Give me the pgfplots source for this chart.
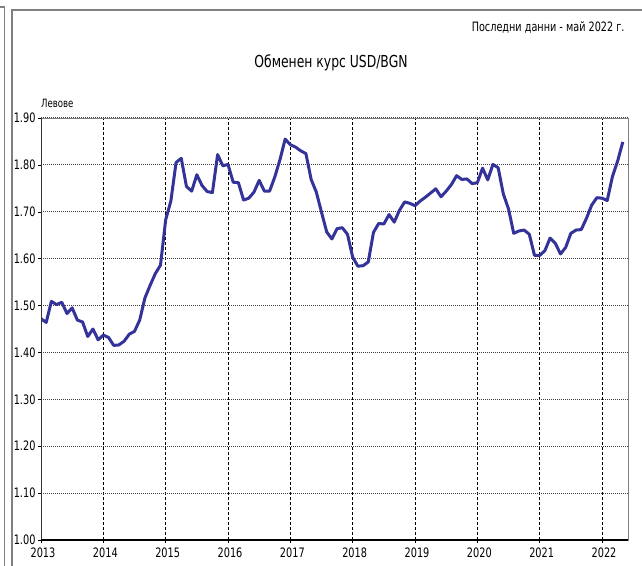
\documentclass[border=0pt]{standalone}
\usepackage{pgfplots}
\pgfplotsset{compat=1.18}
\usepackage{fontspec}
\setmainfont{DejaVu Sans}[FakeStretch=0.75]
\definecolor{linecol}{HTML}{333399}
\definecolor{framegray}{HTML}{808080}

\begin{document}
\begin{tikzpicture}[x=1pt,y=1pt]
    \path[use as bounding box] (0,0) rectangle (642,565);
    % outer frames
    \draw[framegray, line width=1.5pt] (0,558) -- (4.5,558) -- (4.5,-5);
    \draw[framegray, line width=1.5pt] (12,-5) -- (12,555) -- (650,555);

    \node[anchor=east, font=\fontsize{12.9}{15}\selectfont] at (628,538) {Последни данни - май 2022 г.};
    \node[font=\fontsize{16.5}{19}\selectfont] at (331,502) {Обменен курс USD/BGN};
    \node[anchor=west, font=\fontsize{11.4}{13}\selectfont, inner sep=0pt] at (41,462) {Левове};

    \begin{axis}[
        at={(41pt,25pt)}, anchor=south west,
        scale only axis,
        width=587pt, height=422pt,
        xmin=0, xmax=113,
        ymin=1, ymax=1.9,
        xtick={0,12,...,108},
        xticklabels={2013,2014,2015,2016,2017,2018,2019,2020,2021,2022},
        ytick={1,1.1,...,1.91},
        tick align=outside,
        major tick length=3pt,
        tick style={black, thin},
        tick pos=left,
        grid=major,
        x grid style={black, thin, densely dashed},
        y grid style={black!75, line width=1pt, densely dotted},
        axis line style={framegray, thin},
        ticklabel style={font=\fontsize{13}{15}\selectfont},
        xticklabel style={yshift=-1pt, xshift=2pt},
        yticklabel style={xshift=1pt},
        /pgf/number format/.cd, fixed, fixed zerofill, precision=2, assume math mode=true,
    ]
    \addplot[linecol, line width=3pt, line join=round] coordinates {
        (0,1.472) (1,1.464) (2,1.509) (3,1.502) (4,1.507) (5,1.483)
        (6,1.495) (7,1.469) (8,1.465) (9,1.434) (10,1.450) (11,1.427)
        (12,1.437) (13,1.432) (14,1.415) (15,1.416) (16,1.424) (17,1.439)
        (18,1.445) (19,1.469) (20,1.516) (21,1.543) (22,1.568) (23,1.586)
        (24,1.683) (25,1.723) (26,1.805) (27,1.814) (28,1.754) (29,1.744)
        (30,1.779) (31,1.756) (32,1.743) (33,1.741) (34,1.822) (35,1.798)
        (36,1.801) (37,1.763) (38,1.762) (39,1.725) (40,1.729) (41,1.742)
        (42,1.767) (43,1.744) (44,1.744) (45,1.774) (46,1.811) (47,1.855)
        (48,1.843) (49,1.838) (50,1.830) (51,1.824) (52,1.769) (53,1.742)
        (54,1.699) (55,1.657) (56,1.642) (57,1.664) (58,1.666) (59,1.652)
        (60,1.603) (61,1.584) (62,1.585) (63,1.593) (64,1.656) (65,1.675)
        (66,1.674) (67,1.694) (68,1.678) (69,1.703) (70,1.721) (71,1.718)
        (72,1.713) (73,1.723) (74,1.731) (75,1.740) (76,1.749) (77,1.732)
        (78,1.744) (79,1.758) (80,1.777) (81,1.769) (82,1.770) (83,1.760)
        (84,1.762) (85,1.793) (86,1.768) (87,1.801) (88,1.794) (89,1.738)
        (90,1.706) (91,1.654) (92,1.659) (93,1.661) (94,1.652) (95,1.607)
        (96,1.607) (97,1.617) (98,1.644) (99,1.633) (100,1.610) (101,1.624)
        (102,1.654) (103,1.661) (104,1.662) (105,1.686) (106,1.714) (107,1.730)
        (108,1.729) (109,1.724) (110,1.775) (111,1.808) (112,1.849)
    };
    % heavier left and bottom axis lines
    \draw[black!80, line width=1.6pt] (axis description cs:0,0) -- (axis description cs:0,1);
    \draw[black, line width=1.6pt] (axis description cs:0,0) -- (axis description cs:1,0);
    \end{axis}
\end{tikzpicture}
\end{document}
